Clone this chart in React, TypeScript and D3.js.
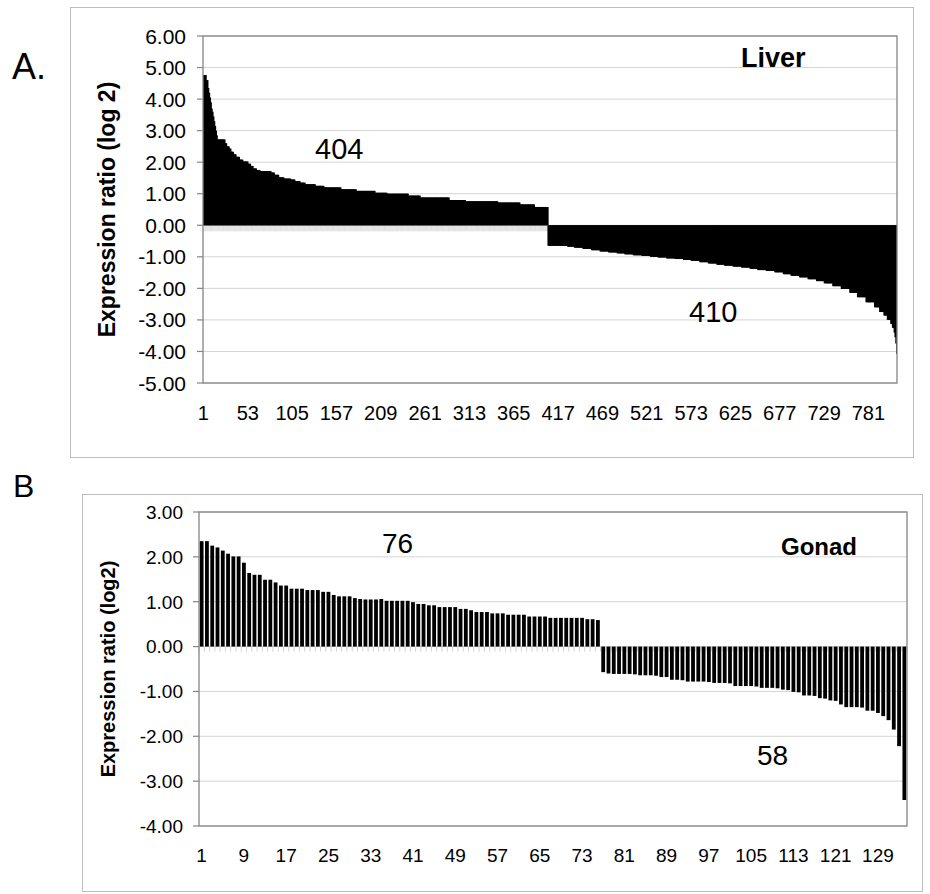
import React from 'react';
import * as d3 from 'd3';

// ---------- DATA ----------
// Liver: 404 up-regulated genes, as [log2 ratio, number of consecutive genes with ~that value]
const liverUpSteps: [number, number][] = [
  [4.76, 3], [4.6, 2], [4.35, 1], [4.2, 1], [4.05, 1], [3.9, 1], [3.7, 1], [3.6, 1],
  [3.45, 1], [3.3, 1], [3.15, 1], [3.0, 1], [2.85, 1], [2.72, 9], [2.6, 2], [2.5, 3],
  [2.43, 2], [2.33, 3], [2.25, 3], [2.17, 4], [2.08, 4], [2.02, 6], [1.95, 3], [1.88, 3],
  [1.8, 4], [1.75, 4], [1.72, 13], [1.67, 4], [1.6, 5], [1.52, 6], [1.48, 8], [1.45, 5],
  [1.4, 6], [1.35, 6], [1.3, 12], [1.25, 10], [1.2, 20], [1.14, 18], [1.09, 22], [1.03, 14],
  [1.0, 25], [0.94, 14], [0.88, 34], [0.8, 19], [0.76, 38], [0.72, 26], [0.66, 17], [0.58, 16],
];
// Liver: 410 down-regulated genes
const liverDownSteps: [number, number][] = [
  [-0.65, 23], [-0.68, 8], [-0.71, 10], [-0.75, 10], [-0.79, 10], [-0.83, 10], [-0.86, 10],
  [-0.89, 9], [-0.92, 10], [-0.95, 10], [-0.97, 10], [-1.0, 9], [-1.02, 10], [-1.05, 10],
  [-1.07, 10], [-1.1, 9], [-1.13, 10], [-1.17, 10], [-1.21, 10], [-1.25, 9], [-1.28, 10],
  [-1.31, 10], [-1.34, 10], [-1.38, 9], [-1.42, 10], [-1.45, 10], [-1.49, 10], [-1.55, 9],
  [-1.6, 10], [-1.65, 10], [-1.71, 10], [-1.77, 9], [-1.84, 10], [-1.93, 10], [-2.02, 10],
  [-2.14, 9], [-2.28, 10], [-2.44, 10], [-2.6, 6], [-2.75, 5], [-2.86, 4], [-3.0, 4],
  [-3.13, 2], [-3.25, 2], [-3.4, 1], [-3.55, 1], [-3.75, 1], [-4.08, 1],
];
// Gonad: 76 up-regulated genes
const gonadUp: number[] = [
  2.35, 2.35, 2.25, 2.21, 2.14, 2.07, 2.01, 2.01, 1.87, 1.64,
  1.6, 1.6, 1.49, 1.49, 1.43, 1.36, 1.36, 1.29, 1.29, 1.29,
  1.26, 1.26, 1.26, 1.22, 1.22, 1.15, 1.12, 1.12, 1.12, 1.08,
  1.06, 1.05, 1.05, 1.05, 1.06, 1.02, 1.02, 1.02, 1.02, 1.02,
  0.99, 0.95, 0.95, 0.92, 0.92, 0.88, 0.88, 0.88, 0.88, 0.84,
  0.84, 0.81, 0.77, 0.77, 0.77, 0.74, 0.74, 0.74, 0.71, 0.71,
  0.71, 0.71, 0.67, 0.67, 0.67, 0.67, 0.64, 0.64, 0.64, 0.64,
  0.64, 0.64, 0.64, 0.61, 0.61, 0.59,
];
// Gonad: 58 down-regulated genes
const gonadDown: number[] = [
  -0.57, -0.6, -0.61, -0.61, -0.61, -0.61, -0.62, -0.64, -0.64, -0.64,
  -0.65, -0.68, -0.68, -0.74, -0.74, -0.75, -0.78, -0.78, -0.78, -0.78,
  -0.79, -0.81, -0.81, -0.81, -0.82, -0.88, -0.88, -0.88, -0.88, -0.89,
  -0.92, -0.92, -0.92, -0.93, -0.96, -0.97, -1.01, -1.02, -1.09, -1.09,
  -1.1, -1.15, -1.16, -1.2, -1.21, -1.29, -1.35, -1.35, -1.35, -1.36,
  -1.43, -1.43, -1.48, -1.55, -1.64, -1.85, -2.22, -3.42,
];
const liverXTicks = [1, 53, 105, 157, 209, 261, 313, 365, 417, 469, 521, 573, 625, 677, 729, 781];
const gonadXTicks = [1, 9, 17, 25, 33, 41, 49, 57, 65, 73, 81, 89, 97, 105, 113, 121, 129];
const liverYTicks = [6, 5, 4, 3, 2, 1, 0, -1, -2, -3, -4, -5];
const gonadYTicks = [3, 2, 1, 0, -1, -2, -3, -4];

const expand = (steps: [number, number][]) => steps.flatMap(([v, n]) => Array(n).fill(v) as number[]);
const liverValues = [...expand(liverUpSteps), ...expand(liverDownSteps)];
const gonadValues = [...gonadUp, ...gonadDown];

const FONT = '"Liberation Sans", Arial, Helvetica, sans-serif';

type PanelProps = {
  values: number[];
  yTicks: number[];
  xTicks: number[];
  left: number; right: number; top: number; bottom: number;
  padInner: number; padOuter: number; extra: number;
  box: [number, number, number, number];
  yLabelX: number; yLabelSize: number;
  xLabelY: number; xLabelSize: number;
  title: string; titleX: number; titleSize: number;
  tickLen: number; tickColor: string; tickWidth: number;
};

function BarPanel(p: PanelProps) {
  const n = p.values.length;
  const x = d3.scaleBand<number>().domain(d3.range(n)).range([p.left, p.right])
    .paddingInner(p.padInner).paddingOuter(p.padOuter);
  const yExt = d3.extent(p.yTicks) as [number, number];
  const y = d3.scaleLinear().domain(yExt).range([p.bottom, p.top]);
  const step = x.step();
  const start = p.left + (p.right - p.left - step * n) / 2;
  const y0 = y(0);
  const bounds = d3.range(n + 1).map((k) => start + k * step);
  return (
    <g>
      <rect x={p.box[0] + 0.5} y={p.box[1] + 0.5} width={p.box[2] - p.box[0]} height={p.box[3] - p.box[1]}
        fill="#fff" stroke="#bdbdbd" strokeWidth={1} />
      {p.yTicks.map((t) => (
        <line key={'g' + t} x1={p.left} x2={p.right} y1={y(t)} y2={y(t)} stroke="#d4d4d4" strokeWidth={1} />
      ))}
      {bounds.map((bx, k) => (
        <line key={'c' + k} x1={bx} x2={bx} y1={y0} y2={y0 + p.tickLen} stroke={p.tickColor} strokeWidth={p.tickWidth} />
      ))}
      {p.values.map((v, i) => {
        const bx = x(i)!;
        const yy = y(Math.max(v, 0));
        const h = Math.abs(y(v) - y0);
        const w = Math.min(x.bandwidth() + p.extra, p.right - bx);
        return <rect key={'b' + i} x={bx} y={yy} width={w} height={h} fill="#000" />;
      })}
      <rect x={p.left} y={p.top} width={p.right - p.left} height={p.bottom - p.top} fill="none"
        stroke="#858585" strokeWidth={1.3} />
      {p.yTicks.map((t) => (
        <g key={'y' + t}>
          <line x1={p.left - 6} x2={p.left} y1={y(t)} y2={y(t)} stroke="#858585" strokeWidth={1.2} />
          <text x={p.yLabelX} y={y(t)} dy="0.36em" textAnchor="end" fontSize={p.yLabelSize}
            fontFamily={FONT} fill="#000">{t.toFixed(2)}</text>
        </g>
      ))}
      {p.xTicks.map((t) => (
        <text key={'x' + t} x={x(t - 1)! + x.bandwidth() / 2} y={p.xLabelY} textAnchor="middle"
          fontSize={p.xLabelSize} fontFamily={FONT} fill="#000">{t}</text>
      ))}
      <text transform={`translate(${p.titleX},${(p.top + p.bottom) / 2}) rotate(-90)`} textAnchor="middle"
        fontSize={p.titleSize} fontWeight="bold" fontFamily={FONT} fill="#000">{p.title}</text>
    </g>
  );
}

export default function App() {
  return (
    <div style={{ position: 'absolute', left: 0, top: 0 }}>
      <svg width={930} height={894} style={{ display: 'block', background: '#fff' }}>
        <rect width={930} height={894} fill="#fff" />
        <BarPanel values={liverValues} yTicks={liverYTicks} xTicks={liverXTicks}
          left={203} right={897} top={36} bottom={383} padInner={0} padOuter={0} extra={1.2}
          box={[70, 7, 913, 457]} yLabelX={186} yLabelSize={21} xLabelY={420} xLabelSize={20}
          title="Expression ratio (log 2)" titleX={115} titleSize={23} tickLen={6}
          tickColor="#c4c4c4" tickWidth={0.45} />
        <BarPanel values={gonadValues} yTicks={gonadYTicks} xTicks={gonadXTicks}
          left={199} right={907} top={512} bottom={826} padInner={0.28} padOuter={0.14} extra={0}
          box={[82, 494, 922, 891]} yLabelX={183} yLabelSize={19} xLabelY={862} xLabelSize={19}
          title="Expression ratio (log2)" titleX={115} titleSize={20} tickLen={5}
          tickColor="#b0b0b0" tickWidth={0.6} />
        <text x={12} y={79} fontSize={36} fontFamily={FONT}>A.</text>
        <text x={13} y={497} fontSize={32} fontFamily={FONT}>B</text>
        <text x={741} y={67} fontSize={27} fontWeight="bold" fontFamily={FONT}>Liver</text>
        <text x={781} y={555} fontSize={24} fontWeight="bold" fontFamily={FONT}>Gonad</text>
        <text x={315} y={159} fontSize={29} fontFamily={FONT}>404</text>
        <text x={689} y={322} fontSize={29} fontFamily={FONT}>410</text>
        <text x={382} y={553} fontSize={28} fontFamily={FONT}>76</text>
        <text x={757} y={765} fontSize={28} fontFamily={FONT}>58</text>
      </svg>
    </div>
  );
}
